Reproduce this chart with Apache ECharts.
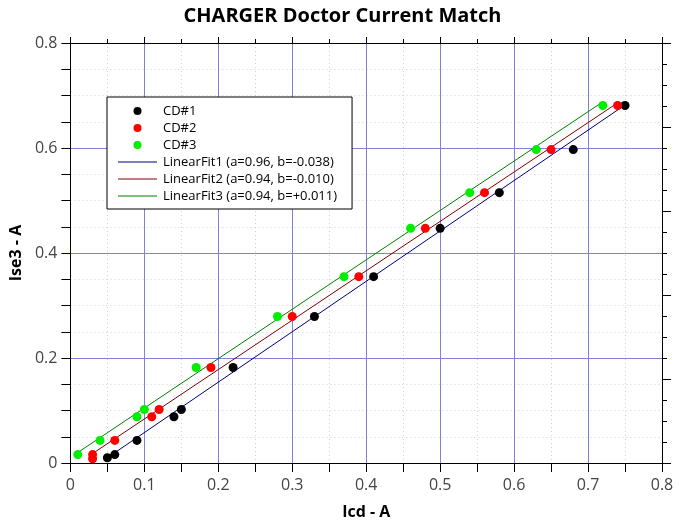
<!DOCTYPE html>
<html>
<head>
    <meta charset="utf-8">
    <title>CHARGER Doctor Current Match</title>
    <script src="https://cdn.jsdelivr.net/npm/echarts@6/dist/echarts.min.js"></script>
    <style>
        html, body { margin: 0; padding: 0; background: #fff; }
    </style>
</head>
<body>
<div id="main" style="width: 685px;height:529px;"></div>
<script type="text/javascript">
    // measured points (Icd, Ise3)
    var cd1X = [0.05, 0.06, 0.09, 0.14, 0.15, 0.22, 0.33, 0.41, 0.50, 0.58, 0.68, 0.75];
    var cd1Y = [0.010, 0.016, 0.043, 0.088, 0.102, 0.182, 0.279, 0.355, 0.447, 0.515, 0.597, 0.681];
    var cd2X = [0.03, 0.03, 0.06, 0.11, 0.12, 0.19, 0.30, 0.39, 0.48, 0.56, 0.65, 0.74];
    var cd2Y = [0.008, 0.016, 0.043, 0.088, 0.102, 0.182, 0.279, 0.355, 0.447, 0.515, 0.597, 0.681];
    var cd3X = [0.01, 0.04, 0.09, 0.10, 0.17, 0.28, 0.37, 0.46, 0.54, 0.63, 0.72];
    var cd3Y = [0.016, 0.043, 0.088, 0.102, 0.182, 0.279, 0.355, 0.447, 0.515, 0.597, 0.681];

    // fit line end points
    var fit1 = [[0.05, 0.010], [0.75, 0.682]];
    var fit2 = [[0.03, 0.018], [0.74, 0.686]];
    var fit3 = [[0.01, 0.020], [0.72, 0.688]];

    var seriesNames = ['CD#1', 'CD#2', 'CD#3',
        'LinearFit1 (a=0.96, b=-0.038)',
        'LinearFit2 (a=0.94, b=-0.010)',
        'LinearFit3 (a=0.94, b=+0.011)'];

    function pairs(xs, ys) {
        var out = [];
        for (var i = 0; i < xs.length; i++) out.push([xs[i], ys[i]]);
        return out;
    }

    var font = 'Open Sans';
    var majorGrid = '#8080d8';
    var minorGrid = '#cfcfcf';
    var lineIcon = 'path://M0,0L40,0L40,1.2L0,1.2Z';

    var myChart = echarts.init(document.getElementById('main'));
    var option = {
        animation: false,
        backgroundColor: '#fff',
        title: {
            text: 'CHARGER Doctor Current Match',
            left: 'center',
            top: 1,
            textStyle: { fontFamily: font, fontWeight: 'bold', fontSize: 20, color: '#000' }
        },
        legend: {
            orient: 'vertical',
            left: 107,
            top: 97,
            backgroundColor: '#fff',
            borderColor: '#000',
            borderWidth: 1,
            borderRadius: 0,
            padding: [7, 15, 6, 11],
            itemWidth: 39,
            itemHeight: 8,
            itemGap: 3,
            symbolKeepAspect: true,
            data: [
                { name: seriesNames[0], icon: 'circle' },
                { name: seriesNames[1], icon: 'circle' },
                { name: seriesNames[2], icon: 'circle' },
                { name: seriesNames[3], icon: lineIcon },
                { name: seriesNames[4], icon: lineIcon },
                { name: seriesNames[5], icon: lineIcon }
            ],
            textStyle: { fontFamily: font, fontSize: 13, lineHeight: 14, color: '#000', padding: [0, 0, 0, 1] }
        },
        grid: { left: 69, right: 23, top: 43, bottom: 66 },
        xAxis: [{
            type: 'value',
            position: 'bottom',
            min: 0, max: 0.8, interval: 0.1,
            name: 'Icd - A',
            nameLocation: 'middle',
            nameGap: 41,
            nameTextStyle: { fontFamily: font, fontWeight: 'bold', fontSize: 16, color: '#000' },
            axisLine: { show: true, onZero: false, lineStyle: { color: '#000', width: 1 } },
            axisTick: { show: true, inside: false, length: 9, lineStyle: { color: '#000' } },
            minorTick: { show: true, splitNumber: 2, length: 9, lineStyle: { color: '#000' } },
            axisLabel: { margin: 14, fontFamily: font, fontSize: 16, color: '#444',
                formatter: function (v) { return +v.toFixed(1) + ''; } },
            splitLine: { show: true, lineStyle: { color: majorGrid, width: 1 } },
            minorSplitLine: { show: true, lineStyle: { color: minorGrid, type: [1, 3], width: 1 } }
        }, {
            type: 'value',
            position: 'top',
            min: 0, max: 0.8, interval: 0.1,
            axisLine: { show: true, onZero: false, lineStyle: { color: '#000', width: 1 } },
            axisTick: { show: true, inside: false, length: 6, lineStyle: { color: '#000' } },
            minorTick: { show: true, splitNumber: 2, length: 4, lineStyle: { color: '#000' } },
            axisLabel: { show: false },
            splitLine: { show: false }
        }],
        yAxis: [{
            type: 'value',
            position: 'left',
            min: 0, max: 0.8, interval: 0.2,
            name: 'Ise3 - A',
            nameLocation: 'middle',
            nameGap: 43,
            nameTextStyle: { fontFamily: font, fontWeight: 'bold', fontSize: 16, color: '#000' },
            axisLine: { show: true, onZero: false, lineStyle: { color: '#000', width: 1 } },
            axisTick: { show: true, inside: false, length: 9, lineStyle: { color: '#000' } },
            minorTick: { show: true, splitNumber: 4, length: 9, lineStyle: { color: '#000' } },
            axisLabel: { margin: 13, fontFamily: font, fontSize: 16, color: '#444',
                formatter: function (v) { return +v.toFixed(1) + ''; } },
            splitLine: { show: true, lineStyle: { color: majorGrid, width: 1 } },
            minorSplitLine: { show: true, lineStyle: { color: minorGrid, type: [1, 3], width: 1 } }
        }, {
            type: 'value',
            position: 'right',
            min: 0, max: 1, interval: 0.2,
            axisLine: { show: true, onZero: false, lineStyle: { color: '#000', width: 1 } },
            axisTick: { show: true, inside: false, length: 9, lineStyle: { color: '#000' } },
            minorTick: { show: true, splitNumber: 4, length: 5, lineStyle: { color: '#000' } },
            axisLabel: { show: false },
            splitLine: { show: false }
        }],
        series: [
            {
                name: seriesNames[0], type: 'scatter', symbolSize: 9, z: 5,
                itemStyle: { color: '#000000', opacity: 1 },
                data: pairs(cd1X, cd1Y)
            },
            {
                name: seriesNames[1], type: 'scatter', symbolSize: 9, z: 5,
                itemStyle: { color: '#ff0000', opacity: 1 },
                data: pairs(cd2X, cd2Y)
            },
            {
                name: seriesNames[2], type: 'scatter', symbolSize: 9, z: 5,
                itemStyle: { color: '#00ee00', opacity: 1 },
                data: pairs(cd3X, cd3Y)
            },
            {
                name: seriesNames[3], type: 'line', symbol: 'none', z: 3,
                lineStyle: { color: '#000080', width: 1 }, itemStyle: { color: '#000080' },
                data: fit1
            },
            {
                name: seriesNames[4], type: 'line', symbol: 'none', z: 3,
                lineStyle: { color: '#800000', width: 1 }, itemStyle: { color: '#800000' },
                data: fit2
            },
            {
                name: seriesNames[5], type: 'line', symbol: 'none', z: 3,
                lineStyle: { color: '#008000', width: 1 }, itemStyle: { color: '#008000' },
                data: fit3
            }
        ]
    };
    myChart.setOption(option);
</script>
</body>
</html>
